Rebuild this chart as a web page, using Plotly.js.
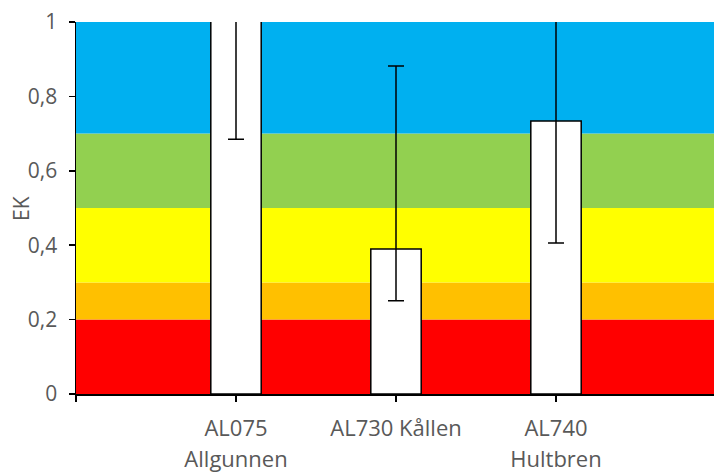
<!DOCTYPE html>
<html>
<head>
<meta charset="utf-8">
<script src="https://cdn.plot.ly/plotly-3.0.1.min.js"></script>
<style>html,body{margin:0;padding:0;background:#fff;}#chart{width:714px;height:473px;}</style>
</head>
<body>
<div id="chart"></div>
<script>
// Category positions and labels
const tickPositions = [0, 1, 2, 3];
const tickLabelsLine1 = ['', 'AL075', 'AL730 Kållen', 'AL740'];
const tickLabelsLine2 = ['', 'Allgunnen', '', 'Hultbren'];
const barPositions = [1, 2, 3];
// EK values (first bar exceeds the axis top)
const ekValues = [1.15, 0.39, 0.734];
const errPlus = [0.2, 0.492, 0.4];
const errMinus = [0.465, 0.139, 0.328];
// Classification bands
const bandLow = [0, 0.2, 0.3, 0.5, 0.7];
const bandHigh = [0.2, 0.3, 0.5, 0.7, 1.0];
const bandColors = ['#FF0000', '#FFC000', '#FFFF00', '#92D050', '#00B0F0'];
const yTickVals = [0, 0.2, 0.4, 0.6, 0.8, 1];
const yTickText = ['0', '0,2', '0,4', '0,6', '0,8', '1'];
const yTitle = 'EK';

const textColor = '#595959';
const fontFam = '"Open Sans", "Liberation Sans", sans-serif';
const fsX = 22;
const fsY = 21;
const xRange = [0, 3.9875];

const shapes = bandLow.map((lo, i) => ({
  type: 'rect', xref: 'paper', yref: 'y', x0: 0, x1: 1, y0: lo, y1: bandHigh[i],
  fillcolor: bandColors[i], line: {width: 0}, layer: 'below'
}));

const trace = {
  type: 'bar', x: barPositions, y: ekValues, width: 0.315,
  marker: {color: '#FFFFFF', line: {color: '#000000', width: 1.5}},
  error_y: {type: 'data', symmetric: false, array: errPlus, arrayminus: errMinus,
            color: '#000000', thickness: 1.5, width: 8},
  hoverinfo: 'skip'
};
const helper = {type: 'scatter', x: [], y: [], xaxis: 'x2', yaxis: 'y', hoverinfo: 'skip', showlegend: false};

const layout = {
  width: 714, height: 473,
  margin: {l: 76, r: 0, t: 22, b: 79},
  paper_bgcolor: '#FFFFFF', plot_bgcolor: '#FFFFFF',
  separators: ', ',
  showlegend: false,
  font: {family: fontFam, size: fsY, color: textColor},
  shapes: shapes,
  annotations: [{
    text: yTitle, xref: 'paper', yref: 'paper', x: -55 / 638, y: 0.5,
    xanchor: 'center', yanchor: 'middle', textangle: -90, showarrow: false,
    font: {family: fontFam, size: fsY, color: textColor}
  }],
  xaxis: {
    range: xRange, tickmode: 'array', tickvals: tickPositions, ticktext: tickLabelsLine1,
    showgrid: false, zeroline: false, showline: true, linecolor: '#000000', linewidth: 1.5,
    ticks: 'outside', ticklen: 6, tickwidth: 1.5, tickcolor: '#000000',
    ticklabelstandoff: 8,
    tickfont: {family: fontFam, size: fsX, color: textColor}
  },
  xaxis2: {
    overlaying: 'x', anchor: 'y', side: 'bottom',
    range: xRange, tickmode: 'array', tickvals: tickPositions, ticktext: tickLabelsLine2,
    showgrid: false, zeroline: false, showline: false, ticks: '',
    ticklabelstandoff: 50,
    tickfont: {family: fontFam, size: fsX, color: textColor}
  },
  yaxis: {
    range: [0, 1], tickmode: 'array', tickvals: yTickVals, ticktext: yTickText,
    showgrid: false, zeroline: false, showline: true, linecolor: '#000000', linewidth: 1.5,
    ticks: 'outside', ticklen: 6, tickwidth: 1.5, tickcolor: '#000000',
    ticklabelstandoff: 7,
    tickfont: {family: fontFam, size: fsY, color: textColor}
  }
};

Plotly.newPlot('chart', [trace, helper], layout, {staticPlot: true, displayModeBar: false});
</script>
</body>
</html>
